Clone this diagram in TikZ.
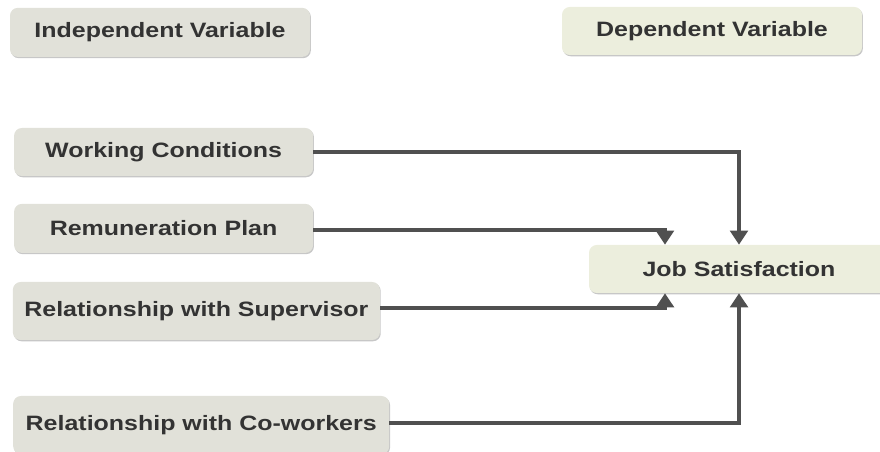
\documentclass[tikz,border=0pt]{standalone}
\usepackage{fontspec}
\setmainfont{Liberation Sans}[FakeStretch=1.2]
\usepackage{tikz}
\usetikzlibrary{shadows}
\usetikzlibrary{arrows.meta}
\usetikzlibrary{positioning}

\definecolor{indfill}{HTML}{E1E1D9}
\definecolor{depfill}{HTML}{ECEEDD}
\definecolor{textgray}{HTML}{333333}
\definecolor{linegray}{HTML}{505050}

\tikzset{
	varbox/.style={rounded corners=5.5pt, inner sep=0pt, text=textgray,
		font=\fontsize{14.8}{17}\selectfont\bfseries,
		drop shadow={shadow xshift=0.6pt, shadow yshift=-0.9pt, opacity=0.22, fill=black}},
	indbox/.style={varbox, fill=indfill},
	depbox/.style={varbox, fill=depfill},
	link/.style={draw=linegray, line width=2.8pt, -{Triangle[width=12.5pt,length=10pt]}}
}

\begin{document}
\begin{tikzpicture}

	\useasboundingbox (0,0) rectangle (22,11.3);

	% Titulos
	\node[indbox, minimum width=7.5cm, minimum height=1.225cm] (indep) at (4.0,10.49) {Independent Variable};
	\node[depbox, minimum width=7.5cm, minimum height=1.2cm] (dep) at (17.8,10.525) {Dependent Variable};

	% Variaveis independentes
	\node[indbox, minimum width=7.475cm, minimum height=1.2cm] (work) at (4.09,7.5) {Working Conditions};
	\node[indbox, minimum width=7.475cm, minimum height=1.225cm] (pay) at (4.09,5.59) {Remuneration Plan};
	\node[indbox, minimum width=9.175cm, minimum height=1.45cm] (boss) at (4.91,3.525) {Relationship with Supervisor};
	\node[indbox, minimum width=9.4cm, minimum height=1.45cm] (peers) at (5.03,0.675) {Relationship with Co-workers};

	% Variavel dependente
	\node[depbox, minimum width=7.5cm, minimum height=1.2cm] (job) at (18.475,4.575) {Job Satisfaction};

	% Setas
	\draw[link] (work.east) -| (job.north);
	\draw[link] ([yshift=-1pt]pay.east) -| ([xshift=-1.85cm]job.north);
	\draw[link] ([yshift=2pt]boss.east) -| ([xshift=-1.85cm]job.south);
	\draw[link] ([yshift=1.5pt]peers.east) -| (job.south);

\end{tikzpicture}
\end{document}
